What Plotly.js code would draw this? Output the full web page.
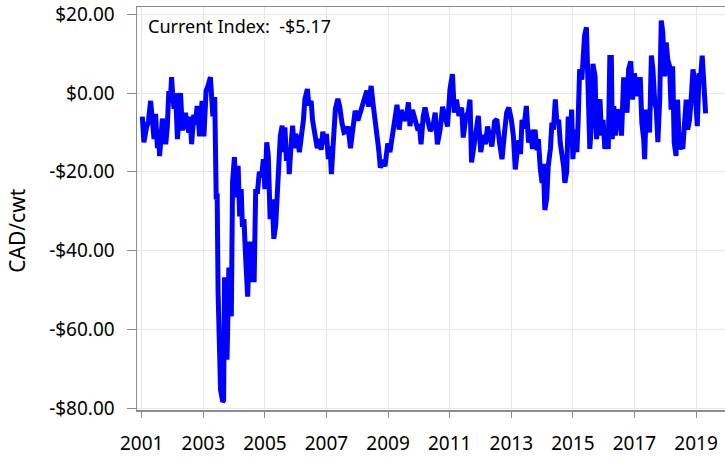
<!DOCTYPE html>
<html>
<head>
<meta charset="utf-8">
<script src="https://cdn.plot.ly/plotly-3.0.1.min.js"></script>
<style>html,body{margin:0;padding:0;background:#fff;}#chart{width:725px;height:459px;}</style>
</head>
<body>
<div id="chart"></div>
<script>
// Time position (decimal year) and index value (CAD/cwt)
const yearPos = [
2001.02,2001.07,2001.15,2001.22,2001.29,2001.35,2001.40,2001.45,2001.51,2001.55,2001.58,2001.63,2001.67,2001.72,2001.78,2001.83,2001.88,2001.93,2001.97,
2002.01,2002.05,2002.10,2002.16,2002.21,2002.26,2002.32,2002.37,2002.42,2002.47,2002.53,2002.57,2002.62,2002.69,2002.74,2002.80,2002.88,2002.92,2002.96,
2003.02,2003.09,2003.16,2003.23,2003.31,2003.37,2003.42,2003.45,2003.48,2003.56,2003.63,2003.66,2003.69,2003.72,2003.77,2003.83,2003.88,2003.91,2003.95,
2004.01,2004.06,2004.13,2004.18,2004.23,2004.27,2004.32,2004.37,2004.44,2004.50,2004.56,2004.60,2004.65,2004.70,2004.76,2004.82,2004.89,2004.95,
2005.00,2005.06,2005.11,2005.17,2005.24,2005.29,2005.35,2005.40,2005.46,2005.50,2005.56,2005.60,2005.65,2005.70,2005.76,2005.79,2005.85,2005.90,2005.95,
2006.00,2006.07,2006.12,2006.20,2006.25,2006.30,2006.38,2006.43,2006.50,2006.55,2006.63,2006.70,2006.76,2006.83,2006.88,2006.95,
2007.00,2007.06,2007.11,2007.16,2007.21,2007.29,2007.37,2007.43,2007.50,2007.57,2007.64,2007.70,2007.78,2007.85,2007.93,
2008.02,2008.10,2008.18,2008.23,2008.31,2008.37,2008.45,2008.51,2008.58,2008.63,2008.69,2008.75,2008.82,2008.90,2008.99,
2009.06,2009.15,2009.23,2009.29,2009.36,2009.43,2009.52,2009.60,2009.66,2009.71,2009.79,2009.86,2009.95,
2010.02,2010.07,2010.14,2010.20,2010.28,2010.37,2010.45,2010.53,2010.60,2010.69,2010.77,2010.85,2010.93,
2011.01,2011.09,2011.15,2011.22,2011.30,2011.39,2011.44,2011.53,2011.60,2011.66,2011.71,2011.77,2011.85,2011.93,
2012.01,2012.09,2012.16,2012.23,2012.30,2012.37,2012.46,2012.53,2012.62,2012.70,2012.78,2012.85,2012.92,
2013.00,2013.07,2013.13,2013.19,2013.25,2013.30,2013.35,2013.41,2013.49,2013.56,2013.63,2013.69,2013.77,2013.84,2013.88,2013.94,
2014.00,2014.04,2014.09,2014.15,2014.20,2014.27,2014.32,2014.37,2014.43,2014.48,2014.54,2014.59,2014.65,2014.70,2014.74,2014.80,2014.85,2014.90,2014.96,
2015.00,2015.07,2015.13,2015.17,2015.22,2015.29,2015.33,2015.38,2015.44,2015.49,2015.55,2015.60,2015.65,2015.72,2015.77,2015.82,2015.88,2015.93,2015.98,
2016.04,2016.09,2016.15,2016.20,2016.25,2016.28,2016.33,2016.38,2016.44,2016.51,2016.58,2016.65,2016.70,2016.76,2016.81,2016.88,2016.94,
2017.00,2017.07,2017.13,2017.19,2017.24,2017.30,2017.33,2017.38,2017.44,2017.49,2017.55,2017.60,2017.66,2017.71,2017.76,2017.82,2017.87,2017.92,2017.98,
2018.03,2018.08,2018.14,2018.19,2018.24,2018.29,2018.35,2018.40,2018.46,2018.51,2018.57,2018.62,2018.68,2018.73,2018.79,2018.84,2018.90,2018.95,
2019.00,2019.04,2019.10,2019.15,2019.20,2019.25,2019.31
];
const indexValue = [
-6,-12.5,-9,-7,-2,-6,-11.7,-5.3,-14,-10,-16,-11,-6.5,-10,-13,-8.7,0.5,-2,4,
-1,-4,0,-11.7,-6,0,-9.5,-7,-5,-8,-10,-6,-13,-5.5,-8,-3.3,-11,-6,-2,
-11,0.5,2,4,-5.9,-1,-27,-25.5,-50.6,-75.3,-78.4,-78,-46.8,-52,-67.7,-44.3,-50,-56.7,-22.6,
-16.3,-26.5,-18.5,-31.3,-24.4,-34,-32,-41,-51.7,-37.7,-48,-37.7,-48,-25,-25,-20,-21.5,-16.8,
-24.4,-12.5,-16,-32,-27,-37,-33.6,-26,-16.8,-11,-8.3,-15,-8.7,-17.2,-14,-20.6,-13.3,-8.3,-14,
-10.4,-12,-15,-10,-7,-1.5,1,-3.2,-2,-7,-10,-14,-11.7,-14.4,-9.8,-13,
-10.4,-16.8,-13.5,-20.6,-14,-4,-1.5,-3.5,-7.5,-10,-9.8,-8.5,-14,-10,-4.5,
-7,-5,-3.5,-1.7,0.6,-3.5,1.8,-2.6,-6.4,-10,-14,-19,-17,-18.6,-12.8,
-15,-9.3,-5.8,-3,-9.3,-4.3,-7,-5.8,-2.4,-8.4,-4.3,-6.7,-8.8,
-8.5,-13,-6,-3.7,-6.7,-9.6,-8.8,-5,-13,-9.3,-3.5,-5.8,-8.5,
1,4.8,-5,-1.7,-5.8,-3.7,-11.3,-5.8,-5,-1.7,-17.6,-14,-10,-5.8,
-15,-10.6,-13,-8.5,-11,-13.6,-7.2,-6.7,-12.7,-16.8,-10,-5,-3.7,
-6.7,-11,-19.4,-15,-12,-15.5,-6.8,-9,-3.3,-12.6,-9.3,-14.2,-9.3,-14.5,-11.7,-19,
-22.8,-18,-29.7,-26.8,-18.6,-14.2,-7.5,-9.3,-1.6,-7.5,-6.8,-12.6,-15.8,-18.6,-22.8,-20,-6,-13.5,-4.2,
-16.8,-9.3,-15,-7.5,6,3.4,11,14.6,16.7,-2.4,-14.2,-8.4,7.4,4.3,-11.7,-3.3,-1.6,-10.8,-6.8,
-14.2,-10.8,-14.2,9,9,-11.7,-3.3,-10.8,-4.2,-5.8,-10.8,4,0.8,-5,6,8,-1.7,
5,-0.8,3.4,3.4,-7.6,-11.7,-16.8,-4.2,-6.8,-10,9.5,6,-2.5,-4.2,-12.5,-1.7,18.4,15.4,4.2,
12.8,8.5,6.8,-4.2,6.8,-12.5,-16,-1.7,-14.2,-13.3,-14.2,-8.4,-1.7,-9.3,-6.8,-1.7,6,3.4,
-6.8,-8.4,5,4.2,9.5,2.5,-5.17
];
const yearTicks = [2001,2003,2005,2007,2009,2011,2013,2015,2017,2019];
const yearTickText = ["2001","2003","2005","2007","2009","2011","2013","2015","2017","2019"];
const valueTicks = [20,0,-20,-40,-60,-80];
const valueTickText = ["$20.00","$0.00","-$20.00","-$40.00","-$60.00","-$80.00"];
const yTitle = "CAD/cwt";

const last = indexValue[indexValue.length-1];
const currentLabel = "Current Index:  " + (last < 0 ? "-$" : "$") + Math.abs(last).toFixed(2);

const FONT = "Noto Sans, Open Sans, sans-serif";

const trace = {
  x: yearPos, y: indexValue, type: 'scatter', mode: 'lines',
  line: {color: '#0000ff', width: 5, shape: 'linear'},
  hoverinfo: 'skip', showlegend: false
};

const layout = {
  width: 725, height: 459,
  margin: {l: 137, r: 0, t: 7, b: 49},
  paper_bgcolor: '#ffffff', plot_bgcolor: '#ffffff',
  font: {family: FONT, size: 19, color: '#000'},
  showlegend: false,
  xaxis: {
    range: [2000.847, 2019.94],
    tickmode: 'array', tickvals: yearTicks, ticktext: yearTickText,
    showgrid: true, gridcolor: '#e6e6e6', gridwidth: 1,
    showline: true, linecolor: '#8c8c8c', linewidth: 1.5, mirror: true,
    ticks: 'outside', ticklen: 6, tickcolor: '#8c8c8c', tickwidth: 1,
    ticklabelstandoff: 10,
    zeroline: false, tickfont: {family: FONT, size: 19, color: '#000'}
  },
  yaxis: {
    range: [-80.46, 21.83],
    tickmode: 'array', tickvals: valueTicks, ticktext: valueTickText,
    showgrid: true, gridcolor: '#e6e6e6', gridwidth: 1,
    showline: true, linecolor: '#8c8c8c', linewidth: 1.5,
    ticks: 'outside', ticklen: 9, tickcolor: '#8c8c8c', tickwidth: 1,
    ticklabelstandoff: 8,
    zeroline: false, tickfont: {family: FONT, size: 19, color: '#000'}
  },
  annotations: [
    {text: currentLabel, xref: 'paper', yref: 'paper', x: 0.015, y: 0.952,
     xanchor: 'left', yanchor: 'middle', showarrow: false,
     font: {family: FONT, size: 18, color: '#000'}},
    {text: yTitle, xref: 'paper', yref: 'paper', x: -0.204, y: 0.445,
     xanchor: 'center', yanchor: 'middle', textangle: -90, showarrow: false,
     font: {family: FONT, size: 21, color: '#000'}}
  ]
};

Plotly.newPlot('chart', [trace], layout, {staticPlot: true, displayModeBar: false});
</script>
</body>
</html>
